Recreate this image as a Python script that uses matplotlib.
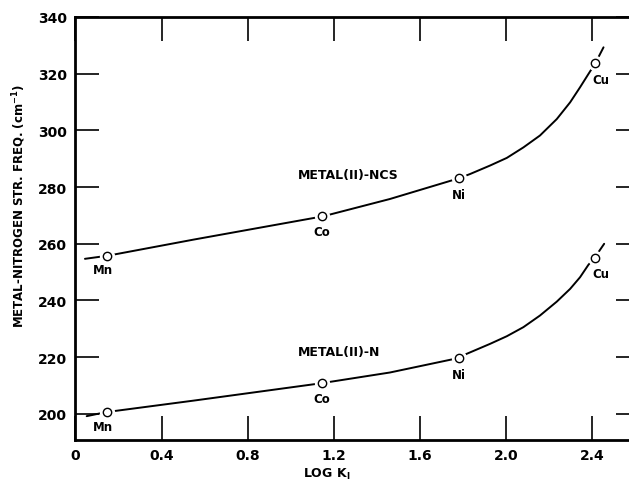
import matplotlib
matplotlib.use("Agg")
import matplotlib.pyplot as plt

# ---- data ----
metals = ["Mn", "Co", "Ni", "Cu"]
log_k1 = [0.145, 1.145, 1.78, 2.412]
ncs_freq = [255.8, 269.7, 283.1, 323.7]
n_freq = [200.6, 210.8, 219.7, 255.0]

# hand-drawn smooth curves
ncs_curve_x = [0.044, 0.15, 0.55, 1.15, 1.46, 1.78, 1.832, 1.925, 2.003, 2.080,
               2.157, 2.235, 2.297, 2.343, 2.382, 2.414, 2.452]
ncs_curve_y = [254.7, 255.8, 261.5, 269.7, 275.8, 283.1, 284.6, 287.6, 290.3, 294.0,
               298.2, 304.0, 309.9, 315.2, 319.9, 323.7, 329.3]
n_curve_x = [0.052, 0.14, 0.55, 1.14, 1.46, 1.778, 1.817, 1.925, 2.003, 2.080,
             2.157, 2.235, 2.297, 2.343, 2.382, 2.410, 2.455]
n_curve_y = [199.2, 200.6, 204.7, 210.8, 214.6, 219.7, 221.2, 224.7, 227.4, 230.6,
             234.7, 239.6, 244.1, 248.2, 252.6, 255.0, 260.0]

x_ticks = [0, 0.4, 0.8, 1.2, 1.6, 2.0, 2.4]
x_tick_labels = ["0", "0.4", "0.8", "1.2", "1.6", "2.0", "2.4"]
y_ticks = [200, 220, 240, 260, 280, 300, 320, 340]

label_offsets = [(-3, -10), (0, -11), (0, -11.5), (4.5, -11.5)]

plt.rcParams["font.family"] = ["DejaVu Sans"]
fig = plt.figure(figsize=(6.29, 4.89), dpi=100)
ax = fig.add_axes([0.120, 0.0982, 0.897, 0.865])

for cx, cy, fy in [(ncs_curve_x, ncs_curve_y, ncs_freq), (n_curve_x, n_curve_y, n_freq)]:
    ax.plot(cx, cy, color="black", lw=1.4, solid_capstyle="round",
            solid_joinstyle="round", zorder=2)
    ax.plot(log_k1, fy, linestyle="none", marker="o", markersize=10,
            markerfacecolor="white", markeredgecolor="white", zorder=3)
    ax.plot(log_k1, fy, linestyle="none", marker="o", markersize=6,
            markerfacecolor="white", markeredgecolor="black", markeredgewidth=1.0, zorder=4)
    for m, x, y, off in zip(metals, log_k1, fy, label_offsets):
        ax.annotate(m, (x, y), xytext=off, textcoords="offset points",
                    ha="center", va="center", fontsize=8.5, fontweight="bold")

ax.text(1.035, 284.3, "METAL(II)-NCS", fontsize=9, fontweight="bold", ha="left", va="center")
ax.text(1.035, 222.0, "METAL(II)-N", fontsize=9, fontweight="bold", ha="left", va="center")

ax.set_xlim(0, 2.62)
ax.set_ylim(190.8, 340)
ax.set_xticks(x_ticks)
ax.set_xticklabels(x_tick_labels)
ax.set_yticks(y_ticks)
for lab in ax.get_xticklabels() + ax.get_yticklabels():
    lab.set_fontweight("bold")
    lab.set_fontsize(10)

ax.tick_params(axis="both", direction="in", length=17, width=1.2,
               top=True, right=True, pad=6)
for s in ax.spines.values():
    s.set_linewidth(2.0)

fig.text(0.52, 1 - 474 / 489, "LOG K$_\\mathregular{I}$", ha="center", va="center",
         fontsize=9, fontweight="bold")
fig.text(19 / 629, 1 - 206 / 489, "METAL-NITROGEN STR. FREQ. (cm$^\\mathregular{-1}$)",
         rotation=90, ha="center", va="center", fontsize=8.5, fontweight="bold")

fig.savefig("out.png", dpi=100)
